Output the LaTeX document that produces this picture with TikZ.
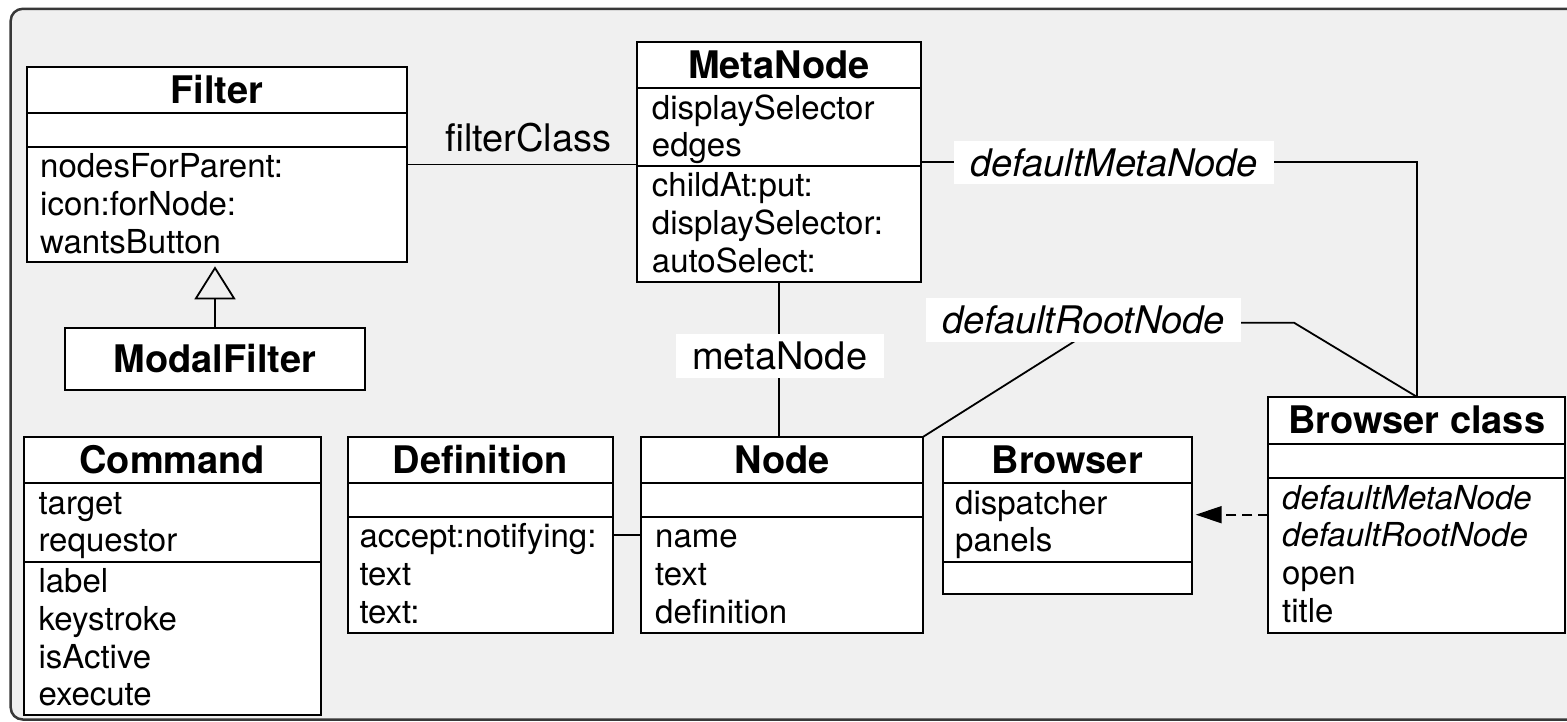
\documentclass[tikz,border=0pt]{standalone}
\usepackage{fontspec}
\setmainfont{TeX Gyre Heros}
\usetikzlibrary{arrows.meta}

\definecolor{panelbg}{HTML}{F0F0F0}
\definecolor{framegray}{HTML}{383838}

\newcommand\membersize{\fontsize{33}{38}\selectfont}
\newcommand\titlesize{\fontsize{38}{44}\selectfont\bfseries}
\newcommand\rolesize{\fontsize{38}{44}\selectfont}

% class rectangle given by left, top, right, bottom
\newcommand\classbox[5]{%
  \node[classbox, minimum width={#4-#2}, minimum height={#5-#3}] (#1) at (#2,#3) {};}
% horizontal compartment divider at height #2
\newcommand\classdiv[2]{%
  \draw[boxline] (#1.west |- 0,#2) -- (#1.east |- 0,#2);}
% a column of member names starting at (#2,#3)
\newcommand\classrows[4]{%
  \foreach \txt [count=\i from 0] in {#4}{%
    \node[member] (#1\i) at (#2, {#3+37.8*\i}) {\txt};}}

\begin{document}
\begin{tikzpicture}[x=1pt, y=-1pt,
  classbox/.style={draw=black, line width=2pt, fill=white, inner sep=0pt,
    outer sep=0pt, anchor=north west},
  boxline/.style={draw=black, line width=2pt},
  member/.style={font=\membersize, anchor=west, inner sep=0pt,
    text height=23.6pt, text depth=0pt},
  classtitle/.style={font=\titlesize, inner sep=0pt,
    text height=27.2pt, text depth=0pt},
  role/.style={font=\rolesize, inner xsep=16.5pt, inner ysep=8pt,
    text height=27.2pt, text depth=0pt},
  rolebg/.style={role, fill=white},
  assoc/.style={draw=black, line width=1.8pt},
  depend/.style={assoc, dash pattern=on 10pt off 6pt,
    -{Triangle[length=26pt, width=17pt]}, shorten >=4pt},
  generalize/.style={assoc, -{Triangle[open, length=33pt, width=41pt]},
    shorten >=4pt},
]
\useasboundingbox (0,0) rectangle (1567,722);
\clip (0,0) rectangle (1567,722);
\fill[white] (0,0) rectangle (1567,722);

% panel
\draw[draw=framegray, line width=2.5pt, fill=panelbg, rounded corners=12pt]
  (10.7,8.8) rectangle (1620,719.5);

% Filter
\classbox{filter}{26.7}{66.7}{406.7}{262.3}
\classdiv{filter}{113.3}
\classdiv{filter}{146.7}
\node[classtitle] (filter-t) at (216.7,90) {Filter};
\classrows{filter-o}{40}{166.2}{nodesForParent:, icon:forNode:, wantsButton}

% ModalFilter
\classbox{modalfilter}{65}{328.3}{365}{390}
\node[classtitle] (modalfilter-t) at (215,359.2) {ModalFilter};

% MetaNode
\classbox{metanode}{637.3}{41.7}{920.7}{282.3}
\classdiv{metanode}{88.3}
\classdiv{metanode}{166}
\node[classtitle] (metanode-t) at (779,65) {MetaNode};
\classrows{metanode-a}{651.7}{107.3}{displaySelector, edges}
\classrows{metanode-o}{651.7}{185}{childAt:put:, displaySelector:, autoSelect:}

% Command
\classbox{command}{24}{436.7}{320.7}{715}
\classdiv{command}{483.3}
\classdiv{command}{561.7}
\node[classtitle] (command-t) at (172.3,460) {Command};
\classrows{command-a}{38.3}{502.3}{target, requestor}
\classrows{command-o}{38.3}{580.7}{label, keystroke, isActive, execute}

% Definition
\classbox{definition}{347.7}{436.7}{613.3}{632.7}
\classdiv{definition}{483.3}
\classdiv{definition}{516.7}
\node[classtitle] (definition-t) at (480.5,460) {Definition};
\classrows{definition-o}{359.3}{535.7}{accept:notifying:, text, text:}

% Node
\classbox{node}{640.7}{436.7}{923.3}{632.7}
\classdiv{node}{483.3}
\classdiv{node}{516.7}
\node[classtitle] (node-t) at (782,460) {Node};
\classrows{node-o}{655}{535.7}{name, text, definition}

% Browser
\classbox{browser}{942.7}{436.7}{1191.7}{594}
\classdiv{browser}{483.3}
\classdiv{browser}{561.7}
\node[classtitle] (browser-t) at (1067.2,460) {Browser};
\classrows{browser-a}{955}{502.3}{dispatcher, panels}

% Browser class
\classbox{bclass}{1268.3}{396.7}{1565}{632.7}
\classdiv{bclass}{444}
\classdiv{bclass}{478.3}
\node[classtitle] (bclass-t) at (1416.7,420.3) {Browser class};
\classrows{bclass-o}{1282}{497.3}{\textit{defaultMetaNode}, \textit{defaultRootNode}, open, title}

% associations
\draw[assoc] (filter.east) -- (filter.east -| metanode.west);
\draw[assoc] (metanode.east) -- (metanode.east -| bclass.north) -- (bclass.north);
\draw[assoc] (metanode.south) -- (metanode.south |- node.north);
\coordinate (rootbend1) at (1104,322.7);
\coordinate (rootbend2) at (1294,322.7);
\draw[assoc] (node.north east) -- (rootbend1) -- (rootbend2) -- (bclass.north);
\draw[assoc] (definition.east) -- (definition.east -| node.west);

% dependency and generalization
\draw[depend] (bclass.west) -- (bclass.west -| browser.east);
\draw[generalize] (modalfilter.north) -- (modalfilter.north |- filter.south);

% role names
\node[role] (role-filter) at (528.3,137.5) {filterClass};
\node[rolebg] (role-dmn) at (1114,162.5) {\textit{defaultMetaNode}};
\node[rolebg] (role-drn) at (1083.5,320) {\textit{defaultRootNode}};
\node[rolebg] (role-meta) at (779.7,356) {metaNode};
\end{tikzpicture}
\end{document}
